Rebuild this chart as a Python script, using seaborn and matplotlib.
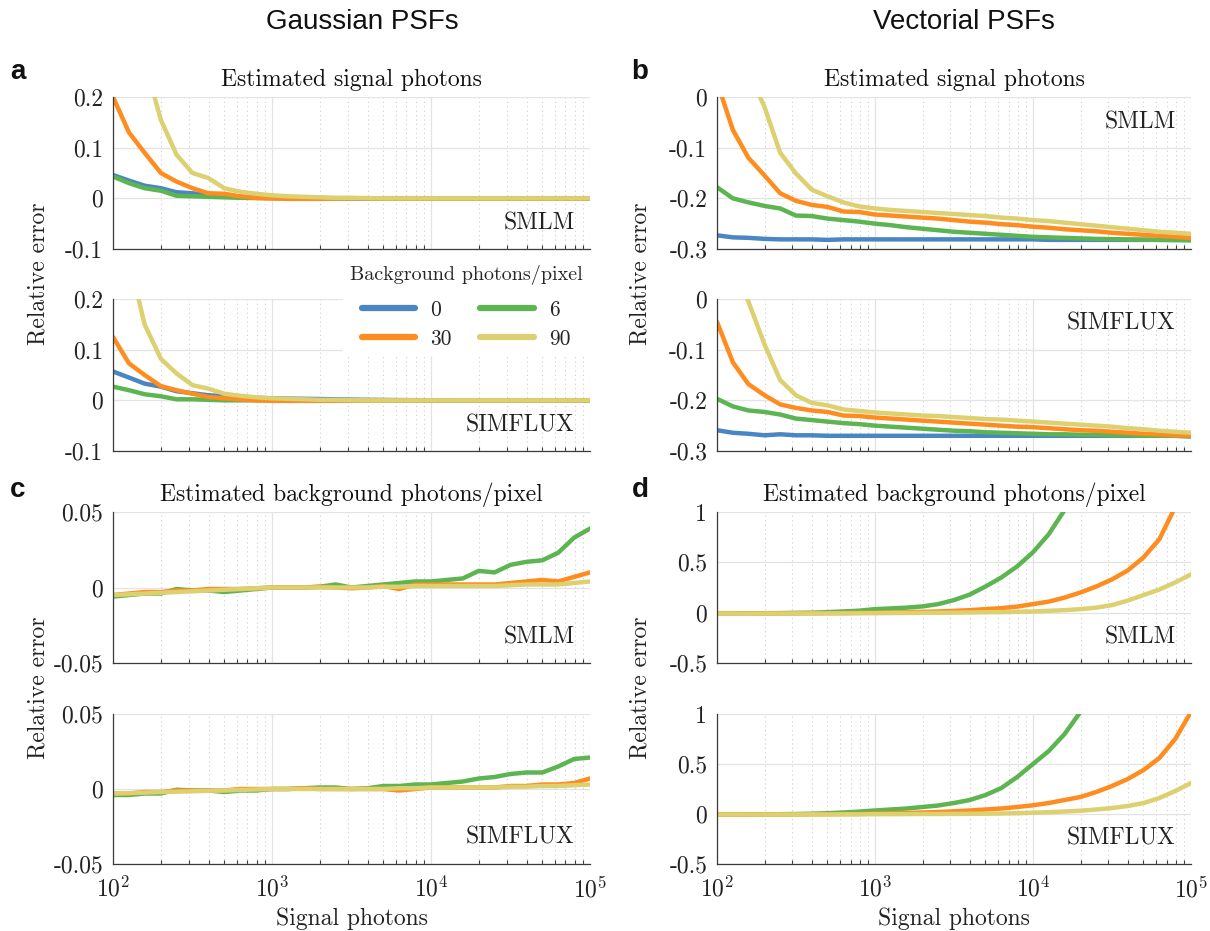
import numpy as np
import pandas as pd
import matplotlib
matplotlib.use("Agg")
import matplotlib.pyplot as plt
import seaborn as sns
from matplotlib.lines import Line2D

# ---------------- data ----------------
photons = [100, 126, 158, 200, 251, 316, 398, 501, 631, 794,
           1000, 1259, 1585, 1995, 2512, 3162, 3981, 5012, 6310, 7943,
           10000, 12589, 15849, 19953, 25119, 31623, 39811, 50119, 63096, 79433, 100000]
bg_levels = ["0", "6", "30", "90"]

# a: Gaussian PSF, estimated signal photons
a_smlm_0 = [0.046, 0.035, 0.025, 0.020, 0.012, 0.010, 0.006, 0.004, 0.003, 0.002,
            0.001, 0.001, 0.001, 0.0005, 0.0003, 0.0002, 0.0001, 0, 0, 0,
            0, 0, 0, 0, 0, 0, 0, 0, 0, 0, 0]
a_smlm_6 = [0.043, 0.030, 0.020, 0.015, 0.005, 0.004, 0.003, 0.002, 0.001, 0.0005,
            0, 0, 0, 0, 0, 0, 0, 0, 0, 0,
            0, 0, 0, 0, 0, 0, 0, 0, 0, 0, 0]
a_smlm_30 = [0.200, 0.130, 0.090, 0.050, 0.033, 0.020, 0.010, 0.009, 0.004, 0.001,
             0.000, -0.001, -0.001, -0.001, -0.0005, 0, 0, 0, 0, 0,
             0, 0, 0, 0, 0, 0, 0, 0, 0, 0, 0]
a_smlm_90 = [0.600, 0.400, 0.270, 0.155, 0.086, 0.050, 0.040, 0.020, 0.013, 0.009,
             0.006, 0.004, 0.003, 0.002, 0.001, 0.001, 0.0005, 0, 0, 0,
             0, 0, 0, 0, 0, 0, 0, 0, 0, 0, 0]

a_sim_0 = [0.057, 0.045, 0.033, 0.027, 0.018, 0.014, 0.010, 0.008, 0.006, 0.005,
           0.004, 0.0035, 0.003, 0.0025, 0.002, 0.0015, 0.001, 0.0008, 0.0005, 0.0003,
           0.0002, 0.0001, 0, 0, 0, 0, 0, 0, 0, 0, 0]
a_sim_6 = [0.027, 0.020, 0.012, 0.008, 0.002, 0.002, 0.001, 0, 0, 0,
           0, 0, 0, 0, 0, 0, 0, 0, 0, 0,
           0, 0, 0, 0, 0, 0, 0, 0, 0, 0, 0]
a_sim_30 = [0.125, 0.073, 0.050, 0.028, 0.020, 0.013, 0.0066, 0.004, 0.002, 0.000,
            -0.001, -0.001, -0.001, -0.001, -0.0005, -0.0005, -0.0005, 0, 0, 0,
            0, 0, 0, 0, 0, 0, 0, 0, 0, 0, 0]
a_sim_90 = [0.450, 0.280, 0.150, 0.082, 0.053, 0.030, 0.023, 0.013, 0.009, 0.006,
            0.004, 0.003, 0.002, 0.001, 0.001, 0.0005, 0, 0, 0, 0,
            0, 0, 0, 0, 0, 0, 0, 0, 0, 0, 0]

# b: vectorial PSF, estimated signal photons
b_smlm_0 = [-0.273, -0.277, -0.278, -0.280, -0.281, -0.281, -0.281, -0.282, -0.281, -0.281,
            -0.281, -0.281, -0.281, -0.281, -0.281, -0.281, -0.281, -0.281, -0.281, -0.281,
            -0.281, -0.282, -0.282, -0.282, -0.282, -0.282, -0.282, -0.282, -0.282, -0.282, -0.282]
b_smlm_6 = [-0.178, -0.200, -0.208, -0.215, -0.220, -0.234, -0.235, -0.240, -0.243, -0.246,
            -0.250, -0.253, -0.257, -0.260, -0.263, -0.266, -0.268, -0.270, -0.272, -0.274,
            -0.276, -0.277, -0.278, -0.279, -0.280, -0.2805, -0.281, -0.2815, -0.282, -0.2825, -0.283]
b_smlm_30 = [0.030, -0.065, -0.120, -0.155, -0.190, -0.205, -0.213, -0.217, -0.226, -0.227,
             -0.232, -0.234, -0.236, -0.238, -0.240, -0.243, -0.246, -0.248, -0.251, -0.253,
             -0.256, -0.258, -0.261, -0.263, -0.265, -0.268, -0.270, -0.272, -0.274, -0.276, -0.278]
b_smlm_90 = [0.200, 0.120, 0.050, -0.020, -0.110, -0.151, -0.183, -0.196, -0.208, -0.216,
             -0.220, -0.223, -0.225, -0.227, -0.229, -0.231, -0.233, -0.235, -0.238, -0.240,
             -0.243, -0.245, -0.248, -0.251, -0.254, -0.257, -0.260, -0.263, -0.266, -0.268, -0.270]

b_sim_0 = [-0.259, -0.264, -0.266, -0.269, -0.267, -0.269, -0.269, -0.270, -0.270, -0.270,
           -0.270, -0.270, -0.270, -0.270, -0.270, -0.270, -0.270, -0.270, -0.270, -0.270,
           -0.270, -0.270, -0.270, -0.270, -0.270, -0.270, -0.270, -0.270, -0.270, -0.270, -0.271]
b_sim_6 = [-0.197, -0.212, -0.220, -0.223, -0.228, -0.236, -0.239, -0.242, -0.245, -0.247,
           -0.250, -0.252, -0.254, -0.256, -0.258, -0.260, -0.261, -0.263, -0.264, -0.265,
           -0.266, -0.267, -0.267, -0.268, -0.268, -0.269, -0.269, -0.270, -0.270, -0.270, -0.271]
b_sim_30 = [-0.045, -0.125, -0.168, -0.190, -0.208, -0.215, -0.220, -0.223, -0.230, -0.231,
            -0.234, -0.236, -0.238, -0.240, -0.242, -0.244, -0.246, -0.248, -0.250, -0.252,
            -0.253, -0.255, -0.257, -0.259, -0.260, -0.262, -0.264, -0.266, -0.267, -0.269, -0.270]
b_sim_90 = [0.150, 0.070, -0.005, -0.090, -0.160, -0.190, -0.205, -0.210, -0.218, -0.221,
            -0.224, -0.226, -0.228, -0.230, -0.231, -0.233, -0.235, -0.237, -0.238, -0.240,
            -0.242, -0.244, -0.246, -0.248, -0.250, -0.252, -0.255, -0.257, -0.260, -0.262, -0.264]

# c: Gaussian PSF, estimated background
c_smlm_6 = [-0.006, -0.005, -0.004, -0.004, -0.001, -0.002, -0.002, -0.003, -0.002, -0.001,
            0.000, 0.000, 0.000, 0.0005, 0.002, 0.000, 0.001, 0.002, 0.003, 0.004,
            0.004, 0.005, 0.006, 0.011, 0.010, 0.015, 0.017, 0.018, 0.023, 0.033, 0.039]
c_smlm_30 = [-0.005, -0.004, -0.003, -0.003, -0.002, -0.002, -0.001, -0.001, -0.001, -0.0005,
             0.000, 0.000, 0.000, 0.0005, 0.000, -0.0005, 0.000, 0.001, -0.001, 0.002,
             0.002, 0.002, 0.002, 0.002, 0.002, 0.003, 0.004, 0.005, 0.004, 0.007, 0.010]
c_smlm_90 = [-0.005, -0.0045, -0.004, -0.0035, -0.003, -0.0025, -0.002, -0.0015, -0.001, -0.0005,
             0.000, 0.000, 0.000, 0.000, 0.000, 0.000, 0.000, 0.0005, 0.0005, 0.001,
             0.001, 0.001, 0.001, 0.001, 0.001, 0.0015, 0.002, 0.002, 0.002, 0.003, 0.004]

c_sim_6 = [-0.004, -0.004, -0.003, -0.003, -0.0005, -0.001, -0.001, -0.002, -0.001, -0.001,
           0.000, 0.000, 0.0005, 0.001, 0.001, 0.000, 0.0005, 0.002, 0.002, 0.003,
           0.003, 0.004, 0.005, 0.007, 0.008, 0.010, 0.011, 0.011, 0.015, 0.020, 0.021]
c_sim_30 = [-0.003, -0.003, -0.002, -0.002, -0.001, -0.001, -0.001, -0.001, 0.000, 0.000,
            0.000, 0.000, 0.0005, 0.000, 0.000, 0.000, 0.000, 0.000, -0.001, 0.000,
            0.001, 0.001, 0.001, 0.001, 0.001, 0.002, 0.002, 0.003, 0.003, 0.004, 0.007]
c_sim_90 = [-0.003, -0.0027, -0.0024, -0.002, -0.0018, -0.0015, -0.0012, -0.001, -0.0006, -0.0003,
            0.000, 0.000, 0.000, 0.000, 0.000, 0.000, 0.000, 0.000, 0.0005, 0.0005,
            0.001, 0.001, 0.001, 0.001, 0.001, 0.0015, 0.0015, 0.002, 0.002, 0.0025, 0.003]

# d: vectorial PSF, estimated background
d_smlm_6 = [-0.010, -0.009, -0.008, -0.006, -0.004, -0.002, 0.000, 0.005, 0.012, 0.020,
            0.035, 0.042, 0.050, 0.062, 0.085, 0.125, 0.180, 0.260, 0.350, 0.460,
            0.600, 0.780, 1.020, 1.350, 1.750, 2.200, 2.800, 3.500, 4.400, 5.500, 7.000]
d_smlm_30 = [-0.010, -0.010, -0.009, -0.009, -0.008, -0.007, -0.006, -0.005, -0.004, -0.002,
             0.000, 0.002, 0.005, 0.008, 0.012, 0.018, 0.025, 0.035, 0.045, 0.060,
             0.085, 0.110, 0.150, 0.200, 0.260, 0.330, 0.420, 0.550, 0.730, 1.050, 1.400]
d_smlm_90 = [-0.010, -0.010, -0.010, -0.009, -0.009, -0.008, -0.008, -0.007, -0.007, -0.006,
             -0.005, -0.004, -0.003, -0.002, -0.001, 0.000, 0.002, 0.004, 0.006, 0.009,
             0.012, 0.018, 0.025, 0.035, 0.050, 0.075, 0.120, 0.175, 0.230, 0.300, 0.380]

d_sim_6 = [-0.005, -0.005, -0.004, -0.003, -0.002, 0.000, 0.003, 0.008, 0.015, 0.024,
           0.035, 0.045, 0.055, 0.070, 0.085, 0.110, 0.140, 0.190, 0.260, 0.370,
           0.500, 0.630, 0.800, 1.020, 1.300, 1.700, 2.100, 2.600, 3.300, 4.100, 5.000]
d_sim_30 = [-0.005, -0.005, -0.005, -0.004, -0.004, -0.003, -0.003, -0.002, -0.001, 0.000,
            0.005, 0.008, 0.011, 0.015, 0.020, 0.027, 0.035, 0.045, 0.055, 0.070,
            0.087, 0.110, 0.140, 0.170, 0.220, 0.280, 0.350, 0.440, 0.560, 0.750, 1.020]
d_sim_90 = [-0.005, -0.005, -0.005, -0.005, -0.005, -0.004, -0.004, -0.004, -0.003, -0.003,
            -0.002, -0.002, -0.001, 0.000, 0.000, 0.001, 0.002, 0.003, 0.005, 0.008,
            0.013, 0.018, 0.025, 0.033, 0.045, 0.060, 0.080, 0.110, 0.160, 0.230, 0.310]

xtick_vals = [1e2, 1e3, 1e4, 1e5]
xtick_labels = [r"$10^{2}$", r"$10^{3}$", r"$10^{4}$", r"$10^{5}$"]
yt_a = [-0.1, 0, 0.1, 0.2]; yl_a = ["-0.1", "0", "0.1", "0.2"]
yt_b = [-0.3, -0.2, -0.1, 0]; yl_b = ["-0.3", "-0.2", "-0.1", "0"]
yt_c = [-0.05, 0, 0.05]; yl_c = ["-0.05", "0", "0.05"]
yt_d = [-0.5, 0, 0.5, 1]; yl_d = ["-0.5", "0", "0.5", "1"]

# ---------------- style ----------------
sns.set_theme(style="white")
plt.rcParams["font.family"] = ["cmr10", "DejaVu Serif"]
plt.rcParams["mathtext.fontset"] = "cm"
plt.rcParams["axes.unicode_minus"] = False

palette = {"0": "#4A86C4", "6": "#5DB552", "30": "#FF8C1E", "90": "#DCD070"}
FS = 17
SANS = ["Liberation Sans", "DejaVu Sans"]

fig = plt.figure(figsize=(12.10, 9.31), dpi=100)

W, H = 1210.0, 931.0
cols = [(113, 590), (717, 1191)]
rows = [(97, 249), (299, 451), (512, 663), (714, 864)]


def make_ax(ci, ri):
    x0, x1 = cols[ci]
    y0, y1 = rows[ri]
    return fig.add_axes([x0 / W, 1 - y1 / H, (x1 - x0) / W, (y1 - y0) / H])


def draw(ax, series, levels, yt, yl, ylim, label, label_y, bottom_row):
    frames = []
    for lev, vals in zip(levels, series):
        frames.append(pd.DataFrame({"photons": photons, "err": vals, "bg": lev}))
    df = pd.concat(frames, ignore_index=True)
    ax.set_xscale("log")
    sns.lineplot(data=df, x="photons", y="err", hue="bg", hue_order=levels,
                 palette=palette, estimator=None, sort=False, lw=3.2,
                 legend=False, ax=ax)
    ax.set_xlim(1e2, 1e5)
    ax.set_ylim(*ylim)
    ax.set_yticks(yt)
    ax.set_yticklabels(yl, fontsize=FS)
    ax.set_xticks(xtick_vals)
    if bottom_row:
        ax.set_xticklabels(xtick_labels, fontsize=FS)
    else:
        ax.set_xticklabels([])
    ax.set_xlabel("")
    ax.set_ylabel("")
    ax.grid(which="major", axis="both", color="#e3e3e3", lw=0.9, ls="-")
    ax.grid(which="minor", axis="x", color="#cdcdcd", lw=0.8, ls=(0, (1, 3)))
    ax.set_axisbelow(True)
    for s in ["top", "right"]:
        ax.spines[s].set_visible(False)
    for s in ["left", "bottom"]:
        ax.spines[s].set_color("#3a3a3a")
        ax.spines[s].set_linewidth(0.9)
    ax.tick_params(axis="both", which="major", direction="in", length=5,
                   width=0.8, color="#3a3a3a", pad=7, labelcolor="#222222")
    ax.tick_params(axis="x", which="minor", direction="in", length=3,
                   width=0.8, color="#3a3a3a", bottom=True)
    ax.tick_params(axis="x", which="major", pad=9)
    ax.text(0.968, label_y, label, transform=ax.transAxes, ha="right",
            va="center", fontsize=FS, color="#222222")
    ax.set_facecolor("white")


ax_a1 = make_ax(0, 0)
draw(ax_a1, [a_smlm_0, a_smlm_6, a_smlm_30, a_smlm_90], bg_levels, yt_a, yl_a,
     (-0.1, 0.2), "SMLM", 0.17, False)
ax_a2 = make_ax(0, 1)
draw(ax_a2, [a_sim_0, a_sim_6, a_sim_30, a_sim_90], bg_levels, yt_a, yl_a,
     (-0.1, 0.2), "SIMFLUX", 0.17, False)
ax_b1 = make_ax(1, 0)
draw(ax_b1, [b_smlm_0, b_smlm_6, b_smlm_30, b_smlm_90], bg_levels, yt_b, yl_b,
     (-0.3, 0.0), "SMLM", 0.835, False)
ax_b2 = make_ax(1, 1)
draw(ax_b2, [b_sim_0, b_sim_6, b_sim_30, b_sim_90], bg_levels, yt_b, yl_b,
     (-0.3, 0.0), "SIMFLUX", 0.84, False)
ax_c1 = make_ax(0, 2)
draw(ax_c1, [c_smlm_6, c_smlm_30, c_smlm_90], bg_levels[1:], yt_c, yl_c,
     (-0.05, 0.05), "SMLM", 0.17, False)
ax_c2 = make_ax(0, 3)
draw(ax_c2, [c_sim_6, c_sim_30, c_sim_90], bg_levels[1:], yt_c, yl_c,
     (-0.05, 0.05), "SIMFLUX", 0.18, True)
ax_d1 = make_ax(1, 2)
draw(ax_d1, [d_smlm_6, d_smlm_30, d_smlm_90], bg_levels[1:], yt_d, yl_d,
     (-0.5, 1.0), "SMLM", 0.17, False)
ax_d2 = make_ax(1, 3)
draw(ax_d2, [d_sim_6, d_sim_30, d_sim_90], bg_levels[1:], yt_d, yl_d,
     (-0.5, 1.0), "SIMFLUX", 0.17, True)

# subplot titles
for ax, t in [(ax_a1, "Estimated signal photons"), (ax_b1, "Estimated signal photons"),
              (ax_c1, "Estimated background photons/pixel"),
              (ax_d1, "Estimated background photons/pixel")]:
    ax.set_title(t, fontsize=FS, pad=8, color="#111111")

for ax in [ax_c2, ax_d2]:
    ax.set_xlabel("Signal photons", fontsize=FS, labelpad=4, color="#222222")

# y labels
for xp, yc in [(38, 274), (38, 688), (640, 274), (640, 688)]:
    fig.text(xp / W, 1 - yc / H, "Relative error", rotation=90, ha="center",
             va="center", fontsize=FS, color="#222222")

# legend (in panel a, SIMFLUX)
handles = [Line2D([], [], color=palette[l], lw=4.5) for l in ["0", "30", "6", "90"]]
labels = ["0", "30", "6", "90"]
leg = ax_a2.legend(handles, labels, ncol=2, title="Background photons/pixel",
                   title_fontsize=14.5, fontsize=15.5, loc="upper right",
                   bbox_to_anchor=(1.02, 1.30), frameon=True, framealpha=1.0,
                   edgecolor="white", facecolor="white", handlelength=2.5,
                   columnspacing=1.3, handletextpad=0.7, labelspacing=0.45,
                   borderpad=0.3, fancybox=False)
leg.get_title().set_position((0, 6))
leg.set_zorder(10)

# column headers and panel letters
fig.text(362 / W, 1 - 22 / H, "Gaussian PSFs", ha="center", va="center",
         fontsize=20, family=SANS, color="#111111")
fig.text(964 / W, 1 - 22 / H, "Vectorial PSFs", ha="center", va="center",
         fontsize=20, family=SANS, color="#111111")
for ch, xp, yp in [("a", 18, 72), ("b", 640, 72), ("c", 18, 490), ("d", 640, 490)]:
    fig.text(xp / W, 1 - yp / H, ch, ha="center", va="center", fontsize=20,
             fontweight="bold", family=SANS, color="#111111")

fig.savefig("out.png", dpi=100, facecolor="white")
